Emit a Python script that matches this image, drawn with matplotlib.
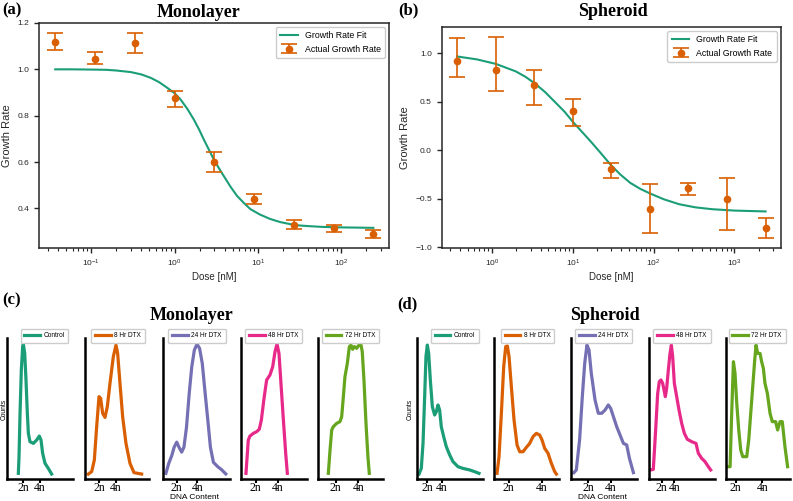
import matplotlib
matplotlib.use("Agg")
import matplotlib.pyplot as plt

plt.rcParams['font.family'] = ['Liberation Sans', 'DejaVu Sans']

# --- dose response data ---
doses_mono = [0.037, 0.111, 0.333, 1, 3, 9, 27, 81, 243]
rate_mono = [1.117, 1.045, 1.113, 0.875, 0.601, 0.440, 0.330, 0.314, 0.288]
err_mono_low = [0.034, 0.023, 0.042, 0.036, 0.046, 0.022, 0.019, 0.014, 0.016]
err_mono_up = [0.040, 0.029, 0.043, 0.032, 0.043, 0.023, 0.020, 0.016, 0.020]
fit_dose_mono = [0.037, 0.06, 0.1, 0.15, 0.2, 0.3, 0.4, 0.52, 0.65, 0.82, 1.0,
                 1.18, 1.42, 1.7, 1.96, 2.24, 2.57, 2.95, 3.4, 3.89, 4.7, 5.62,
                 6.8, 8.11, 10.5, 14.1, 18.5, 24.4, 32, 42.4, 60, 100, 243]
fit_rate_mono = [1.0, 1.0, 0.999, 0.998, 0.995, 0.988, 0.978, 0.963, 0.945,
                 0.920, 0.897, 0.870, 0.830, 0.784, 0.742, 0.698, 0.655, 0.612,
                 0.574, 0.540, 0.493, 0.454, 0.423, 0.397, 0.374, 0.354, 0.341,
                 0.332, 0.326, 0.323, 0.320, 0.318, 0.316]

doses_sph = [0.37, 1.11, 3.33, 10, 30, 90, 270, 810, 2430]
rate_sph = [0.922, 0.823, 0.666, 0.400, -0.198, -0.604, -0.392, -0.505, -0.802]
err_sph_low = [0.164, 0.215, 0.205, 0.147, 0.085, 0.253, 0.072, 0.321, 0.106]
err_sph_up = [0.229, 0.345, 0.157, 0.123, 0.068, 0.253, 0.058, 0.215, 0.102]
fit_dose_sph = [0.37, 0.65, 1.12, 1.96, 2.6, 3.43, 4.54, 6.01, 7.94, 10.0, 12.6,
                16.7, 22.2, 29.3, 38.8, 51.3, 67.9, 89.9, 135, 208, 330, 531,
                1000, 2430]
fit_rate_sph = [0.965, 0.935, 0.888, 0.812, 0.755, 0.684, 0.598, 0.496, 0.394,
                0.292, 0.200, 0.088, -0.031, -0.150, -0.252, -0.337, -0.398,
                -0.446, -0.508, -0.558, -0.590, -0.609, -0.623, -0.632]

# --- DNA content histograms (normalised counts), 2n = 2, 4n = 4 ---
labels_hist = ['Control', '8 Hr DTX', '24 Hr DTX', '48 Hr DTX', '72 Hr DTX']
colors_hist = ['#1b9e77', '#d95f02', '#7570b3', '#e7298a', '#66a61e']

ctrl_mono_x = [1.45, 1.53, 1.65, 1.80, 1.96, 2.04, 2.20, 2.35, 2.51, 2.63, 2.82,
               3.22, 3.61, 3.92, 4.12, 4.31, 4.59, 4.98, 5.37]
ctrl_mono_y = [0.040, 0.158, 0.465, 0.771, 0.937, 0.955, 0.889, 0.701, 0.465,
               0.323, 0.264, 0.252, 0.276, 0.304, 0.276, 0.182, 0.111, 0.075, 0.035]
h8_mono_x = [0.68, 1.08, 1.40, 1.68, 1.96, 2.16, 2.40, 2.68, 2.96, 3.28, 3.68,
             4.00, 4.20, 4.48, 4.80, 5.20, 5.68, 6.16, 7.08]
h8_mono_y = [0.035, 0.052, 0.134, 0.370, 0.583, 0.571, 0.465, 0.436, 0.512,
             0.677, 0.866, 0.948, 0.889, 0.677, 0.441, 0.252, 0.111, 0.045, 0.035]
h24_mono_x = [0.95, 1.21, 1.52, 1.75, 2.00, 2.22, 2.48, 2.70, 2.95, 3.21, 3.46,
              3.71, 3.97, 4.22, 4.48, 4.73, 5.02, 5.27, 5.56, 5.97, 6.38, 6.76]
h24_mono_y = [0.040, 0.107, 0.166, 0.225, 0.261, 0.225, 0.190, 0.225, 0.367,
              0.604, 0.794, 0.912, 0.955, 0.924, 0.818, 0.628, 0.415, 0.225,
              0.118, 0.088, 0.064, 0.036]
h48_mono_x = [1.12, 1.33, 1.48, 1.79, 2.09, 2.33, 2.52, 2.76, 3.00, 3.30, 3.55,
              3.76, 3.94, 4.12, 4.30, 4.52, 4.73, 4.88]
h48_mono_y = [0.040, 0.276, 0.304, 0.323, 0.335, 0.352, 0.418, 0.571, 0.701,
              0.736, 0.795, 0.901, 0.955, 0.889, 0.677, 0.418, 0.182, 0.040]
h72_mono_x = [1.35, 1.50, 1.65, 1.79, 2.09, 2.38, 2.53, 2.68, 2.82, 3.03, 3.21,
              3.35, 3.50, 3.65, 3.85, 4.06, 4.21, 4.35, 4.50, 4.68, 4.85, 4.97]
h72_mono_y = [0.040, 0.205, 0.347, 0.370, 0.394, 0.406, 0.441, 0.583, 0.724,
              0.819, 0.937, 0.948, 0.918, 0.937, 0.925, 0.948, 0.960, 0.901,
              0.701, 0.394, 0.158, 0.040]

ctrl_sph_x = [0.84, 1.16, 1.40, 1.63, 1.81, 2.00, 2.19, 2.42, 2.70, 3.02, 3.26,
              3.49, 3.72, 3.95, 4.28, 4.65, 5.12, 5.58, 6.28, 6.98, 7.91, 8.60, 9.21]
ctrl_sph_y = [0.035, 0.075, 0.252, 0.583, 0.866, 0.948, 0.889, 0.701, 0.512,
              0.453, 0.477, 0.524, 0.488, 0.370, 0.300, 0.229, 0.170, 0.123,
              0.087, 0.075, 0.064, 0.052, 0.040]
h8_sph_x = [1.30, 1.42, 1.56, 1.70, 1.82, 1.92, 2.02, 2.16, 2.32, 2.50, 2.66,
            2.86, 3.06, 3.26, 3.46, 3.66, 3.86, 4.00, 4.16, 4.36, 4.56, 4.76, 4.86]
h8_sph_y = [0.040, 0.158, 0.465, 0.795, 0.937, 0.941, 0.866, 0.653, 0.418,
            0.241, 0.193, 0.193, 0.224, 0.252, 0.300, 0.323, 0.311, 0.276,
            0.217, 0.182, 0.111, 0.052, 0.035]
h24_sph_x = [0.76, 0.97, 1.26, 1.50, 1.71, 1.91, 2.09, 2.29, 2.62, 2.91, 3.21,
             3.50, 3.79, 4.00, 4.24, 4.53, 4.88, 5.12, 5.41, 5.65, 6.00]
h24_sph_y = [0.045, 0.064, 0.276, 0.583, 0.818, 0.948, 0.913, 0.748, 0.559,
             0.465, 0.465, 0.488, 0.524, 0.500, 0.441, 0.370, 0.300, 0.252,
             0.241, 0.146, 0.045]
h48_sph_x = [0.26, 0.68, 1.05, 1.37, 1.63, 1.89, 2.16, 2.37, 2.58, 2.79, 3.05,
             3.32, 3.53, 3.74, 4.00, 4.37, 4.74, 5.16, 5.58, 6.05, 6.74, 7.42,
             7.79, 8.32, 8.84, 9.37, 9.74]
h48_sph_y = [0.064, 0.068, 0.347, 0.606, 0.689, 0.701, 0.677, 0.630, 0.583,
             0.642, 0.771, 0.889, 0.948, 0.866, 0.677, 0.583, 0.488, 0.394,
             0.323, 0.281, 0.264, 0.252, 0.182, 0.146, 0.123, 0.087, 0.064]
h72_sph_x = [1.40, 1.58, 1.70, 1.83, 1.95, 2.08, 2.23, 2.38, 2.53, 2.83, 2.98,
             3.13, 3.28, 3.43, 3.53, 3.65, 3.83, 3.95, 4.08, 4.20, 4.38, 4.58,
             4.75, 5.00, 5.15, 5.33, 5.50, 5.70, 5.90]
h72_sph_y = [0.087, 0.087, 0.465, 0.830, 0.748, 0.535, 0.347, 0.205, 0.158,
             0.158, 0.276, 0.465, 0.653, 0.842, 0.948, 0.889, 0.889, 0.830,
             0.783, 0.677, 0.606, 0.465, 0.406, 0.406, 0.347, 0.406, 0.406,
             0.229, 0.087]

mono_curves = [(ctrl_mono_x, ctrl_mono_y), (h8_mono_x, h8_mono_y),
               (h24_mono_x, h24_mono_y), (h48_mono_x, h48_mono_y),
               (h72_mono_x, h72_mono_y)]
sph_curves = [(ctrl_sph_x, ctrl_sph_y), (h8_sph_x, h8_sph_y),
              (h24_sph_x, h24_sph_y), (h48_sph_x, h48_sph_y),
              (h72_sph_x, h72_sph_y)]
xlims_mono = [(0.15, 7.85), (0.28, 8.0), (0.64, 7.17), (0.64, 6.64), (0.41, 6.21)]
xlims_sph = [(0.56, 9.77), (1.1, 5.0), (0.53, 6.29), (0.0, 10.42), (1.25, 6.08)]

W, H = 793, 501
fig = plt.figure(figsize=(W / 100, H / 100), dpi=100)


def px_rect(l, t, r, b):
    return [l / W, 1 - b / H, (r - l) / W, (b - t) / H]


green = '#1b9e77'
orange = '#d95f02'
edge = '#262626'


def dose_panel(rect, doses, rate, err_low, err_up, fit_x, fit_y):
    ax = fig.add_axes(rect)
    ax.plot(fit_x, fit_y, color=green, lw=1.5, label='Growth Rate Fit')
    ax.errorbar(doses, rate, yerr=[err_low, err_up], fmt='o', color=orange,
                ms=4.5, elinewidth=1.2, capsize=6, capthick=1.2,
                label='Actual Growth Rate')
    ax.set_xscale('log')
    ax.set_xlabel('Dose [nM]', fontsize=7, color=edge, labelpad=2)
    ax.set_ylabel('Growth Rate', fontsize=8, color=edge, labelpad=4)
    for s in ax.spines.values():
        s.set_color(edge)
        s.set_linewidth(1.1)
    ax.tick_params(which='major', labelsize=6, length=3.5, width=1, colors=edge,
                   direction='out')
    ax.tick_params(which='minor', length=2, width=0.8, colors=edge)
    ax.legend(loc='upper right', fontsize=6.3, edgecolor='0.8', framealpha=1,
              borderpad=0.5)
    return ax


ax_a = dose_panel(px_rect(39.3, 22.7, 389.3, 248.3), doses_mono, rate_mono,
                  err_mono_low, err_mono_up, fit_dose_mono, fit_rate_mono)
ax_b = dose_panel(px_rect(441.7, 26.7, 781, 248.3), doses_sph, rate_sph,
                  err_sph_low, err_sph_up, fit_dose_sph, fit_rate_sph)
ax_b.set_yticks([-1.0, -0.5, 0.0, 0.5, 1.0])

serif = ['Liberation Serif', 'DejaVu Serif']
fig.text(198.7 / W, 1 - 12.7 / H, 'Monolayer', ha='center', va='center',
         fontsize=13, fontweight='bold', family=serif)
fig.text(613 / W, 1 - 12 / H, 'Spheroid', ha='center', va='center',
         fontsize=13, fontweight='bold', family=serif)
fig.text(191.3 / W, 1 - 315 / H, 'Monolayer', ha='center', va='center',
         fontsize=13, fontweight='bold', family=serif)
fig.text(605 / W, 1 - 315 / H, 'Spheroid', ha='center', va='center',
         fontsize=13, fontweight='bold', family=serif)
for txt, x, y in [('(a)', 12, 10), ('(b)', 408, 10), ('(c)', 11.5, 300),
                  ('(d)', 407.5, 304)]:
    fig.text(x / W, 1 - y / H, txt, ha='center', va='center', fontsize=12,
             fontweight='bold', family=serif)

lefts_mono = [7.3, 85, 162.7, 240.7, 317.7]
rights_mono = [72.7, 149.3, 230, 306.7, 383.3]
lefts_sph = [417, 493.7, 571.3, 649, 725.7]
rights_sph = [483, 558.7, 636.7, 715, 790]


def hist_row(lefts, rights, curves, xlims, counts_x):
    for i, ((x, y), l, r) in enumerate(zip(curves, lefts, rights)):
        ax = fig.add_axes(px_rect(l, 337.7, r, 479))
        ax.plot(x, y, color=colors_hist[i], lw=2.3, label=labels_hist[i])
        ax.set_xlim(*xlims[i])
        ax.set_ylim(0, 1)
        ax.spines['top'].set_visible(False)
        ax.spines['right'].set_visible(False)
        for s in ('left', 'bottom'):
            ax.spines[s].set_linewidth(1.8)
            ax.spines[s].set_color('black')
        ax.set_yticks([])
        ax.set_xticks([2, 4])
        ax.set_xticklabels(['2n', '4n'], family=serif, fontsize=8.5)
        ax.tick_params(axis='x', length=3, width=1.5, pad=-0.5)
        ax.legend(loc='upper right', bbox_to_anchor=(0.935, 1.065),
                  borderaxespad=0, fontsize=4.7, handlelength=2.4,
                  handletextpad=0.5, borderpad=0.6, edgecolor='0.8',
                  framealpha=1)
        if i == 0:
            ax.set_ylabel('Counts', fontsize=4.8)
            ax.yaxis.set_label_coords(counts_x, 0.49)
        if i == 2:
            ax.set_xlabel('DNA Content', fontsize=6)
            ax.xaxis.set_label_coords(0.47, -0.105)


hist_row(lefts_mono, rights_mono, mono_curves, xlims_mono, 0.012)
hist_row(lefts_sph, rights_sph, sph_curves, xlims_sph, -0.045)

fig.savefig('out.png', dpi=100)
